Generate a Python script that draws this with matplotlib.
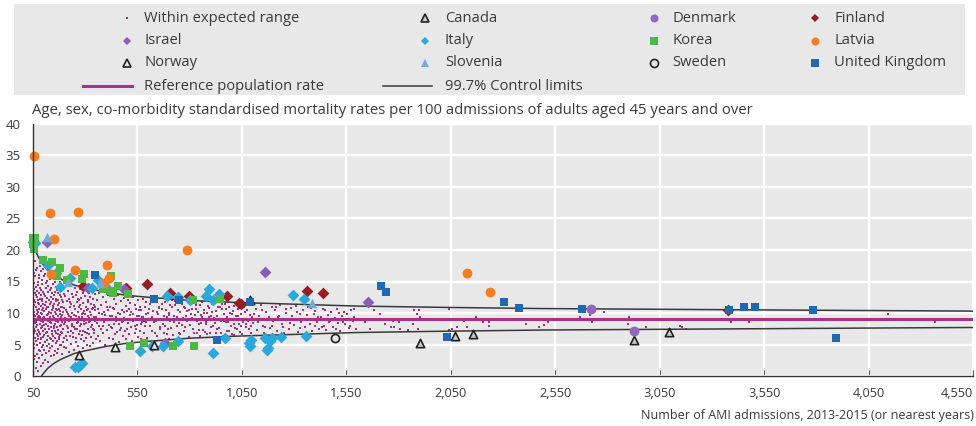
import matplotlib
matplotlib.use("Agg")
import matplotlib.pyplot as plt
from matplotlib.lines import Line2D
from matplotlib.patches import Rectangle
import numpy as np

plt.rcParams['font.family'] = ['Open Sans', 'DejaVu Sans']

# ---------------- data ----------------
ref_rate = 9.0

limit_n_upper = [50, 55, 60, 65, 70, 80, 91, 100, 120, 150, 200, 250, 300, 400, 500, 600,
                 800, 1000, 1300, 1600, 2000, 2500, 3000, 3500, 4000, 4550]
limit_upper = [21.1, 20.6, 20.1, 19.6, 19.3, 18.6, 18.1, 17.6, 16.8, 16.0, 15.1, 14.4, 14.0,
               13.3, 12.8, 12.5, 12.0, 11.7, 11.4, 11.1, 10.9, 10.7, 10.6, 10.5, 10.4, 10.3]
limit_n_lower = [91, 95, 100, 110, 120, 135, 150, 175, 200, 250, 300, 400, 500, 600, 800,
                 1000, 1300, 1600, 2000, 2500, 3000, 3500, 4000, 4550]
limit_lower = [0.0, 0.2, 0.4, 0.8, 1.2, 1.6, 2.0, 2.5, 2.9, 3.6, 4.0, 4.7, 5.2, 5.5, 6.0,
               6.3, 6.6, 6.9, 7.1, 7.3, 7.4, 7.5, 7.6, 7.7]

# hospitals within expected range: "admissions rate" pairs
within_a = """50 9.1,50 12.4,50 6.3,51 15.2,51 3.8,51 10.6,52 8.2,52 17.9,52 1.9,53 11.3,53 7.4,53 13.8,
54 5.1,54 9.7,55 16.4,55 2.7,55 8.8,56 12.1,56 6.9,57 10.2,57 14.7,57 4.4,58 9.5,58 18.3,59 7.1,
59 11.8,60 3.2,60 13.1,60 8.4,61 15.9,61 6.0,62 10.9,62 9.0,63 1.2,63 12.8,64 7.8,64 16.8,65 5.6,
65 11.0,66 14.2,66 8.6,67 3.5,67 9.9,68 12.6,68 6.6,69 17.2,69 10.4,70 4.9,70 8.1,71 13.5,71 2.3,
72 11.6,72 7.3,73 15.0,73 9.3,74 5.8,74 12.0,75 10.1,75 0.8,76 14.4,76 6.4,77 8.9,77 16.1,78 4.1,
78 11.4,79 9.6,79 13.2,80 7.0,80 2.9,81 10.7,81 15.6,82 5.3,82 8.3,83 12.3,83 17.5,84 6.7,84 9.4,
85 3.9,85 14.0,86 11.1,86 7.6,87 10.0,87 1.6,88 13.7,88 5.9,89 8.7,89 16.6,90 12.9,90 6.1,91 9.8,
91 4.6,92 15.3,92 10.5,93 7.7,93 11.9,94 3.3,94 14.6,95 8.0,95 12.2,96 6.2,96 9.2,97 17.0,97 5.0,
98 10.8,98 13.4,99 7.2,99 2.1,100 11.5,100 8.5"""

within_b = """101 9.4,102 13.0,102 6.5,103 15.8,104 4.2,104 10.3,105 8.1,106 12.7,106 2.6,107 7.5,108 11.2,
108 16.2,109 5.4,110 9.0,110 13.9,111 6.8,112 10.6,112 3.6,113 14.8,114 8.3,114 11.7,115 7.0,
116 12.4,116 5.7,117 9.7,118 15.1,118 4.8,119 10.9,120 7.9,120 13.3,121 2.2,122 11.0,122 8.8,
123 6.3,124 14.3,124 9.9,125 5.1,126 12.0,126 7.4,127 16.3,128 10.2,128 3.9,129 8.6,130 13.6,
130 6.0,131 11.4,132 9.3,132 4.5,133 15.4,134 7.7,134 12.6,135 10.0,136 5.9,136 8.4,137 14.0,
138 11.8,138 3.1,139 9.1,140 6.7,140 13.1,141 10.5,142 7.2,142 15.7,143 4.7,144 12.2,144 8.9,
145 6.4,146 11.1,146 9.6,147 14.6,148 5.5,148 10.8,149 8.0,150 12.9,150 3.4,151 7.6,152 11.5,
152 9.2,153 15.0,154 6.1,154 10.1,155 4.0,156 13.4,156 8.2,157 7.1,158 12.3,158 9.8,159 5.2,
160 14.2,160 10.7,161 6.9,162 8.7,162 11.9,163 3.7,164 13.7,164 7.8,165 10.4,166 5.6,166 9.0,
167 15.5,168 12.1,168 6.6,169 8.5,170 11.3,170 4.3,171 9.5,172 13.2,172 7.3,173 10.6,174 5.8,
174 14.4,175 8.9,176 11.6,176 6.2,177 9.9,178 12.8,178 4.9,179 7.9,180 10.3,180 14.9,181 6.5,
182 9.4,183 12.5,183 5.0,184 8.1,185 11.0,186 13.8,186 7.0,187 9.7,188 3.5,189 10.9,190 6.8,
190 12.0,191 8.6,192 14.1,193 5.4,194 10.2,194 7.5,195 11.7,196 9.1,197 4.6,198 13.0,198 8.3,
199 6.0,200 10.8"""

within_c = """202 9.2,204 12.7,206 6.4,207 14.3,209 4.5,210 10.4,212 8.0,213 11.9,215 5.7,216 13.5,218 7.6,
219 9.8,221 3.8,222 12.2,224 8.7,225 10.9,227 6.3,228 14.5,230 9.4,231 7.1,233 11.4,234 5.1,
236 13.0,237 8.3,239 10.0,240 6.8,242 12.5,243 9.0,245 4.2,246 11.1,248 7.8,249 14.0,251 8.9,
252 10.6,254 6.0,255 12.9,257 5.4,258 9.6,260 11.7,261 7.4,263 13.3,264 8.5,266 10.2,267 4.8,
269 12.0,270 6.7,272 9.3,273 11.3,275 7.9,276 13.8,278 5.9,279 10.7,281 8.2,282 12.4,284 6.5,
285 9.9,287 4.4,288 11.6,290 7.2,291 13.1,293 8.8,294 10.3,296 5.6,297 12.7,299 9.1,300 7.0,
302 11.0,303 6.1,305 13.6,306 8.4,308 10.5,309 5.0,311 12.1,312 9.5,314 7.5,315 11.8,317 6.6,
318 13.2,320 8.6,321 10.1,323 4.7,324 12.6,326 7.7,327 9.7,329 11.5,330 6.2,332 13.4,333 8.1,
335 10.8,336 5.3,338 9.0,339 12.3,341 7.3,342 11.2,344 6.9,345 13.0,347 8.7,348 10.4,350 5.8,
205 8.5,211 10.1,217 7.0,223 9.5,229 11.8,235 8.0,241 6.2,247 9.7,253 7.5,259 8.4,265 12.3,
271 10.9,277 7.1,283 9.3,289 10.0,295 8.2,301 9.9,307 6.9,313 10.7,319 9.2,325 8.8,331 10.6,
337 7.4,343 9.4,349 11.0"""

within_d = """353 9.3,356 12.0,359 6.4,362 10.6,365 8.0,368 13.1,371 5.5,374 11.2,377 7.4,380 9.8,383 12.6,
386 6.9,389 10.2,392 8.6,395 5.0,398 11.7,401 9.1,404 7.3,407 12.9,410 10.4,413 6.1,416 8.9,
419 11.0,422 7.7,425 13.0,428 9.6,431 5.8,434 10.8,437 8.3,440 12.2,443 6.7,446 9.4,449 11.4,
452 7.0,455 10.0,458 12.8,461 8.2,464 5.4,467 9.9,470 11.9,473 7.6,476 10.5,479 6.3,482 8.7,
485 12.4,488 9.2,491 7.1,494 11.1,497 5.9,500 10.3,503 8.4,506 12.0,509 6.6,512 9.7,515 11.6,
518 7.8,521 10.1,524 5.6,527 8.8,530 12.5,533 9.0,536 6.9,539 11.3,542 7.5,545 10.7,548 8.1,
551 12.1,554 6.2,557 9.5,560 11.0,563 7.2,566 10.4,569 5.9,572 8.6,575 12.3,578 9.3,581 6.8,
584 10.9,587 7.9,590 11.8,593 8.5,596 6.0,599 10.0,358 8.4,367 10.0,376 9.0,385 7.9,394 9.7,
403 10.9,412 8.1,421 9.5,430 7.6,439 10.7,448 8.8,457 9.1,466 7.3,475 8.5,484 10.2,493 9.0,
502 7.4,511 10.6,520 8.9,529 9.8,538 8.0,547 9.6,556 10.5,565 8.3,574 9.4,583 8.7,592 9.9"""

within_e = """605 9.1,612 11.4,618 7.2,624 10.3,630 8.5,636 12.0,642 6.3,648 9.8,654 11.0,660 7.7,666 10.6,
672 8.2,678 6.9,684 11.7,690 9.4,696 7.4,702 10.0,708 8.8,714 12.1,720 6.5,726 9.6,732 11.2,
738 7.9,744 10.4,750 8.4,756 6.7,762 11.5,768 9.2,774 7.1,780 10.8,786 8.7,792 11.9,798 6.2,
804 9.9,810 10.7,816 7.5,822 8.9,828 11.3,834 6.8,840 10.1,846 8.3,852 9.7,858 11.8,864 7.3,
870 10.5,876 8.6,882 6.6,888 11.1,894 9.3,900 7.8,906 10.2,912 8.0,918 11.6,924 6.9,930 9.5,
936 10.9,942 7.6,948 8.8,954 11.4,960 6.4,966 9.9,972 10.6,978 7.2,984 8.5,990 11.0,996 9.1,
1002 6.7,1008 10.3,1014 8.2,1020 11.5,1026 7.4,1032 9.6,1038 10.8,1044 8.0,1050 6.6,1056 11.2,
1062 9.0,1068 7.7,1074 10.4,1080 8.7,1086 11.4,1092 6.9,1098 9.4,615 8.9,645 10.2,675 9.5,
705 11.3,735 9.0,765 8.1,795 10.5,825 9.7,855 8.4,885 10.0,915 9.2,945 10.9,975 8.6,1005 9.8,
1035 8.3,1065 10.1,1095 7.9"""

within_e2 = """603 10.6,609 7.9,621 9.3,627 11.8,633 6.9,639 8.7,651 10.8,657 7.4,663 9.0,669 11.5,681 8.0,
687 10.4,693 6.6,699 9.7,711 7.6,717 10.9,723 8.5,729 11.9,741 9.3,747 6.9,753 10.2,759 8.9,
771 11.0,777 7.7,783 9.5,789 10.3,801 8.1,807 11.6,813 9.2,819 6.8,831 10.6,837 8.7,843 7.3,
849 11.2,861 9.4,867 10.0,873 7.0,879 8.3,891 10.8,897 6.8,903 9.6,909 11.4,921 8.4,927 10.3,
933 7.5,939 9.1,951 6.9,957 10.7,963 8.8,969 11.5,981 9.3,987 7.1,993 10.0,999 8.0,1011 11.1,
1017 7.6,1023 9.5,1029 10.6,1041 7.0,1047 9.8,1053 8.6,1059 10.9,1071 8.3,1077 11.3,1083 7.4,
1089 9.7,630 12.2,700 5.9,760 12.0,850 6.3,950 11.7,1010 6.5"""

within_f = """1105 8.4,1116 10.7,1124 7.3,1133 9.6,1141 11.2,1150 8.0,1158 6.8,1166 10.1,1175 9.0,1183 7.6,
1192 11.0,1200 8.7,1208 10.4,1217 7.1,1225 9.3,1234 11.3,1242 8.2,1250 6.9,1259 10.0,1267 8.9,
1276 7.4,1284 10.8,1292 9.5,1301 8.1,1309 11.1,1318 7.0,1326 9.8,1334 8.5,1343 10.5,1351 7.7,
1360 9.1,1368 10.9,1376 8.3,1385 7.2,1393 9.9,1402 10.3,1410 8.6,1419 7.5,1427 9.4,1436 10.6,
1444 8.0,1453 7.3,1461 9.7,1470 8.8,1478 10.2,1487 7.8,1495 9.2,1504 10.7,1512 8.4,1521 7.1,
1529 9.6,1538 10.1,1546 8.2,1555 9.0,1563 7.6,1572 10.4,1580 8.7,1589 9.3,1597 7.4,
1110 9.9,1128 8.6,1146 10.4,1162 7.8,1180 9.4,1196 8.0,1213 11.0,1230 9.6,1246 7.7,1263 10.6,
1280 8.4,1297 9.0,1314 10.2,1330 7.6,1347 8.9,1364 9.7,1381 10.8,1398 8.0,1415 9.3,1432 7.7,
1449 10.4,1466 8.5,1483 9.1,1500 7.5,1517 10.0,1534 8.6,1551 9.8,1568 7.9,1585 10.6"""

within_g = """1638 8.5,1662 7.4,1683 10.5,1710 9.8,1735 8.2,1762 7.7,1779 7.7,1773 8.8,1806 7.4,1803 8.5,
1843 7.3,1870 8.2,1874 10.4,1886 9.8,1897 10.5,1902 9.3,1893 7.5,1923 8.9,1958 9.0,2043 7.3,
2054 7.4,2041 10.6,2078 7.7,2113 8.7,2126 7.8,2169 9.4,2188 9.0,2204 8.5,2233 8.5,2233 7.9,
2412 9.0,2412 8.3,2472 7.7,2495 8.1,2514 8.5,2670 9.3,2715 9.7,2728 8.5,2784 10.1,2903 9.3,
2898 8.3,2986 7.7,3145 8.0,3158 7.7,3177 7.5,3390 8.5,3476 8.6,3906 9.0,4145 9.9,4366 8.5"""

# named countries: admissions, rate
canada_n = [1091, 1905, 2069, 2154, 2927, 3095]
canada_y = [12.1, 5.3, 6.3, 6.7, 5.7, 7.0]
denmark_n = [2720, 2927]
denmark_y = [10.6, 7.2]
finland_n = [291, 493, 594, 705, 796, 977, 1037, 1045, 1362, 1436, 3375]
finland_y = [14.3, 13.9, 14.6, 13.1, 12.7, 12.7, 11.6, 11.5, 13.5, 13.1, 10.4]
israel_n = [115, 315, 485, 682, 1163, 1652]
israel_y = [21.3, 13.9, 13.8, 5.3, 16.5, 11.8]
italy_n = [52, 60, 120, 160, 180, 227, 331, 362, 403, 251, 264, 275, 286, 562, 621, 671, 745,
           693, 744, 801, 876, 894, 913, 940, 913, 970, 1083, 1088, 1093, 1163, 1168, 1176,
           1184, 1192, 1237, 1296, 1348, 1356]
italy_y = [21.3, 21.1, 17.6, 16.3, 14.2, 15.5, 13.9, 15.2, 13.9, 1.5, 1.5, 1.7, 2.0, 4.0, 4.7,
           4.8, 5.6, 12.7, 12.5, 12.1, 12.7, 13.8, 12.1, 13.0, 3.6, 6.0, 5.3, 4.7, 5.7, 6.1,
           4.2, 4.4, 5.6, 6.0, 6.2, 12.9, 12.3, 6.3]
korea_n = [52, 60, 52, 56, 96, 139, 179, 163, 211, 286, 296, 386, 418, 434, 458, 503, 423,
           817, 945, 514, 583, 721, 822]
korea_y = [21.9, 21.9, 21.0, 20.2, 18.4, 18.1, 17.2, 15.9, 15.3, 15.4, 16.2, 13.8, 13.5, 13.2,
           14.3, 13.0, 15.8, 12.1, 12.3, 4.7, 5.2, 4.7, 4.7]
latvia_n = [55, 131, 265, 152, 135, 252, 403, 414, 391, 787, 2130, 2237]
latvia_y = [34.9, 25.9, 26.0, 21.7, 16.2, 16.9, 17.6, 15.6, 14.8, 20.0, 16.4, 13.3]
norway_n = [270, 442, 629]
norway_y = [3.3, 4.6, 4.9]
slovenia_n = [115, 219, 372, 1388]
slovenia_y = [22.0, 15.0, 14.8, 11.6]
sweden_n = [1498]
sweden_y = [6.1]
uk_n = [347, 629, 748, 932, 1091, 1714, 1739, 2032, 2305, 2375, 2680, 3380, 3453, 3508, 3782, 3895]
uk_y = [16.0, 12.3, 12.1, 5.7, 11.8, 14.3, 13.3, 6.2, 11.7, 10.8, 10.6, 10.4, 11.0, 10.9, 10.5, 6.0]

x_ticks = [50, 550, 1050, 1550, 2050, 2550, 3050, 3550, 4050, 4550]
y_ticks = [0, 5, 10, 15, 20, 25, 30, 35, 40]

title = ("Age, sex, co-morbidity standardised mortality rates per 100 admissions of adults "
         "aged 45 years and over")
xlabel = "Number of AMI admissions, 2013-2015 (or nearest years)"


def parse_pairs(*blocks):
    ns, ys = [], []
    for b in blocks:
        for item in b.replace("\n", "").split(","):
            item = item.strip()
            if item:
                a, c = item.split()
                ns.append(float(a))
                ys.append(float(c))
    return np.array(ns), np.array(ys)


within_n, within_y = parse_pairs(within_a, within_b, within_c, within_d, within_e,
                                 within_e2, within_f, within_g)

# ---------------- styles ----------------
DOT = '#a2327f'
REF = '#a8318a'
LIM = '#3a3a3a'
TXT = '#3a3a3a'
BG = '#e8e8e8'

series = [
    ("Canada", canada_n, canada_y, dict(marker='^', s=36, c='#c8c8c8', edgecolors='#222222', linewidths=1.2)),
    ("Denmark", denmark_n, denmark_y, dict(marker='o', s=50, c='#9466c2', linewidths=0)),
    ("Finland", finland_n, finland_y, dict(marker='D', s=36, c='#981d22', linewidths=0)),
    ("Israel", israel_n, israel_y, dict(marker='D', s=36, c='#8a5db6', linewidths=0)),
    ("Italy", italy_n, italy_y, dict(marker='D', s=36, c='#2aa8dc', linewidths=0)),
    ("Korea", korea_n, korea_y, dict(marker='s', s=36, c='#4db848', linewidths=0)),
    ("Latvia", latvia_n, latvia_y, dict(marker='o', s=50, c='#f47d20', linewidths=0)),
    ("Norway", norway_n, norway_y, dict(marker='^', s=36, c='#e6e6e6', edgecolors='#222222', linewidths=1.2)),
    ("Slovenia", slovenia_n, slovenia_y, dict(marker='^', s=46, c='#6faadf', linewidths=0)),
    ("Sweden", sweden_n, sweden_y, dict(marker='o', s=34, c='#e6e6e6', edgecolors='#222222', linewidths=1.2)),
    ("United Kingdom", uk_n, uk_y, dict(marker='s', s=36, c='#1f69b3', linewidths=0)),
]

W, H = 976, 426
fig = plt.figure(figsize=(W / 100, H / 100), dpi=100)


def fx(px):
    return px / W


def fy(py):
    return 1 - py / H


ax = fig.add_axes([fx(33), fy(376), fx(973) - fx(33), fy(124) - fy(376)])
ax.set_facecolor(BG)
ax.set_xlim(50, 4550)
ax.set_ylim(0, 40)
ax.set_xticks(x_ticks)
ax.set_xticklabels([f"{v:,}" for v in x_ticks])
ax.set_yticks(y_ticks)
ax.grid(True, color='white', linewidth=1.7, zorder=0)
ax.set_axisbelow(True)
for s in ['top', 'right']:
    ax.spines[s].set_visible(False)
for s in ['left', 'bottom']:
    ax.spines[s].set_color('#333333')
    ax.spines[s].set_linewidth(1.0)
    ax.spines[s].set_zorder(6)
ax.tick_params(axis='y', length=0, pad=9, labelsize=9.5, labelcolor=TXT)
ax.tick_params(axis='x', direction='in', length=4, width=0.8, color='#555555', pad=8,
               labelsize=9.2, labelcolor=TXT)
lbls = ax.get_xticklabels()
lbls[-1].set_horizontalalignment('right')

ax.scatter(within_n, within_y, marker='s', s=3.8, c=DOT, linewidths=0, zorder=2)
ax.axhline(ref_rate, color=REF, linewidth=2.2, zorder=3)
ax.plot(limit_n_upper, limit_upper, color=LIM, linewidth=1.1, zorder=3)
ax.plot(limit_n_lower, limit_lower, color=LIM, linewidth=1.1, zorder=3)

for name, xs, ys, st in series:
    ax.scatter(xs, ys, zorder=4, clip_on=False, **st)

# title and x label
t_title = fig.text(fx(32), fy(111), title, ha='left', va='center', fontsize=11, color=TXT)
t_xl = fig.text(fx(974), fy(415), xlabel, ha='right', va='center', fontsize=9, color=TXT)

# legend box
fig.add_artist(Rectangle((fx(14), fy(95)), fx(965) - fx(14), fy(4) - fy(95),
                         transform=fig.transFigure, facecolor=BG, edgecolor='none', zorder=0))

rows = [18, 41, 63, 86]
mcols = [127, 425, 654, 815]
tcols = [144, 445, 672, 834]
legend_texts = []


def leg_marker(col, row, **kw):
    fig.add_artist(Line2D([fx(mcols[col])], [fy(rows[row])], transform=fig.transFigure,
                          linestyle='none', **kw))


def leg_text(col, row, s):
    t = fig.text(fx(tcols[col]), fy(rows[row]), s, ha='left', va='center', fontsize=10.5,
                 color=TXT)
    legend_texts.append(t)


leg_marker(0, 0, marker='s', markersize=1.8, color=DOT, markeredgewidth=0)
leg_text(0, 0, "Within expected range")
for i, (name, xs, ys, st) in enumerate(series):
    k = i + 1
    col, row = k % 4, k // 4
    ms = {'^': 5.3, 'o': 5.8, 'D': 4.3, 's': 5.3}[st['marker']]
    if st['marker'] == '^' and 'edgecolors' not in st:
        ms = 6.0
    leg_marker(col, row, marker=st['marker'], markersize=ms, markerfacecolor=st['c'],
               markeredgecolor=st.get('edgecolors', st['c']),
               markeredgewidth=st.get('linewidths', 0) if st.get('linewidths', 0) else 0)
    leg_text(col, row, name)

fig.add_artist(Line2D([fx(83), fx(132)], [fy(86), fy(86)], transform=fig.transFigure,
                      color=REF, linewidth=2.2))
leg_text(0, 3, "Reference population rate")
fig.add_artist(Line2D([fx(383), fx(432)], [fy(86), fy(86)], transform=fig.transFigure,
                      color=LIM, linewidth=1.1))
leg_text(1, 3, "99.7% Control limits")

# fit text widths to the reference layout
fig.canvas.draw()
r = fig.canvas.get_renderer()


def fit(t, target):
    w = t.get_window_extent(r).width
    t.set_fontsize(t.get_fontsize() * target / w)


fit(t_title, 722)
fit(t_xl, 333)
w0 = legend_texts[0].get_window_extent(r).width
scale = 155 / w0
for t in legend_texts:
    t.set_fontsize(t.get_fontsize() * scale)

fig.savefig("out.png", dpi=100)
